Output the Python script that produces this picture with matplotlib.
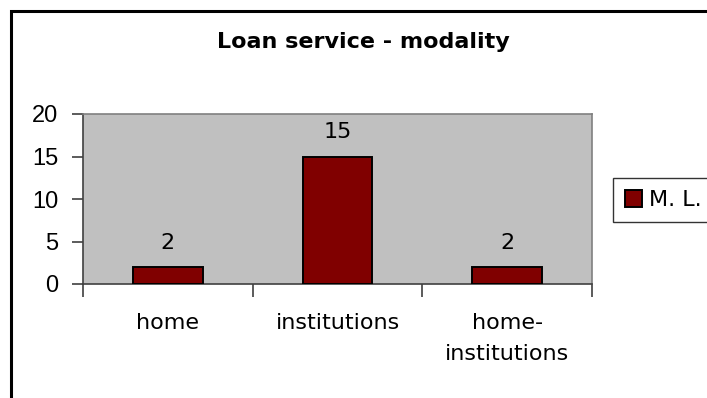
import numpy as np
import matplotlib
matplotlib.use("Agg")
import matplotlib.pyplot as plt
from matplotlib.patches import Rectangle

# loan service counts by modality
categories = ["home", "institutions", "home-\ninstitutions"]
counts = [2, 15, 2]
series_name = "M. L."

bar_color = "#800000"
plot_bg = "#C0C0C0"

fig = plt.figure(figsize=(7.07, 3.98), dpi=100)
W, H = 707, 398

# outer chart frame, runs off the right/bottom edges
fig.patches.append(Rectangle((11 / W, -0.1), 1.2, 1 - 11 / H + 0.1,
                             transform=fig.transFigure, fill=False,
                             edgecolor="black", linewidth=2.2))

ax = fig.add_axes([83 / W, 1 - 284 / H, (592 - 83) / W, (284 - 114) / H])
ax.set_facecolor(plot_bg)

x = np.arange(len(categories))
bars = ax.bar(x, counts, width=0.41, color=bar_color, edgecolor="black",
              linewidth=1.4, label=series_name, zorder=3)

for xi, v in zip(x, counts):
    ax.annotate(str(v), (xi, v), xytext=(0, 13), textcoords="offset points",
                ha="center", va="baseline", fontsize=16, family="DejaVu Sans")

ax.set_xlim(-0.5, len(categories) - 0.5)
ax.set_ylim(0, 20)
ax.set_yticks([0, 5, 10, 15, 20])

# labels at category centres, tick marks on the boundaries
ax.set_xticks(x)
ax.set_xticklabels(categories, fontsize=16, family="DejaVu Sans",
                   linespacing=1.7, va="top")
ax.tick_params(axis="x", which="major", length=0, pad=21)
ax.set_xticks(np.arange(len(categories) + 1) - 0.5, minor=True)
ax.tick_params(axis="x", which="minor", length=9, width=1.2, color="#404040",
               direction="out")
ax.tick_params(axis="y", length=8, width=1.2, color="#404040", pad=10,
               direction="out")
for lab in ax.get_yticklabels():
    lab.set_fontsize(17)
    lab.set_family("Liberation Sans")

for side in ["top", "right"]:
    ax.spines[side].set_color("#808080")
    ax.spines[side].set_linewidth(1.2)
for side in ["left", "bottom"]:
    ax.spines[side].set_color("#404040")
    ax.spines[side].set_linewidth(1.2)

fig.text(363 / W, 1 - 48 / H, "Loan service - modality", ha="center",
         va="baseline", fontsize=16, fontweight="bold", family="DejaVu Sans")

leg = fig.legend(handles=[bars], labels=[series_name], loc="upper left",
                 bbox_to_anchor=(613 / W, 1 - 178 / H), fontsize=16,
                 frameon=True, fancybox=False, edgecolor="black",
                 borderpad=0.55, handlelength=0.75, handleheight=0.75,
                 handletextpad=0.3, borderaxespad=0)
leg.get_frame().set_linewidth(1.0)
leg.get_texts()[0].set_family("DejaVu Sans")

fig.savefig("out.png", dpi=100)
